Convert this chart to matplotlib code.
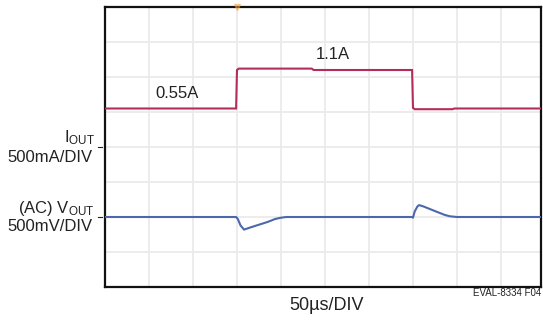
import matplotlib
matplotlib.use("Agg")
import matplotlib.pyplot as plt
import numpy as np

plt.rcParams['font.family'] = ['Liberation Sans Narrow', 'Liberation Sans', 'DejaVu Sans']
plt.rcParams['mathtext.fontset'] = 'custom'
plt.rcParams['mathtext.rm'] = 'Liberation Sans'
plt.rcParams['mathtext.it'] = 'Liberation Sans'

# Scope settings
TIME_PER_DIV = 50.0      # µs/DIV
IOUT_PER_DIV = 0.5       # A/DIV
VOUT_PER_DIV = 0.5       # V/DIV
IOUT_ZERO_DIV = 4.0      # I_OUT ground marker (divisions from bottom)
VOUT_ZERO_DIV = 2.0      # V_OUT AC reference (divisions from bottom)

# Load current step (µs, A)
iout_t = [0, 149, 150, 152, 235, 237, 349, 350, 352, 395, 397, 496]
iout_a = [0.55, 0.55, 1.10, 1.12, 1.12, 1.10, 1.10, 0.56, 0.54, 0.54, 0.55, 0.55]

# Output voltage deviation, AC coupled (µs, V)
vout_t = [0, 149, 151, 154, 158, 165, 175, 185, 193, 200, 206, 349, 350, 352, 355, 357,
          362, 370, 378, 386, 392, 400, 496]
vout_v = [0.0, 0.0, -0.03, -0.12, -0.18, -0.15, -0.11, -0.07, -0.03, -0.01, 0.0, 0.0,
          -0.01, 0.08, 0.15, 0.17, 0.15, 0.11, 0.07, 0.03, 0.01, 0.0, 0.0]

iout_label_levels = [0.55, 1.1]
iout_label_text = ["0.55A", "1.1A"]
iout_label_time = [82, 259]

fig = plt.figure(figsize=(5.43, 3.22), dpi=100)
ax = fig.add_axes([105 / 543, 1 - 287 / 322, 436 / 543, 280 / 322])

ax.set_xlim(0, 9.91)
ax.set_ylim(0, 8)
ax.set_xticks(np.arange(1, 10))
ax.set_yticks(np.arange(1, 8))
ax.grid(True, color='#eaeaea', linewidth=1.3)
ax.set_axisbelow(True)
ax.tick_params(length=0, labelbottom=False, labelleft=False)
for s in ax.spines.values():
    s.set_linewidth(1.6)
    s.set_color('#111111')

xi = np.array(iout_t) / TIME_PER_DIV
yi = IOUT_ZERO_DIV + np.array(iout_a) / IOUT_PER_DIV
ax.plot(xi, yi, color='#b32d5c', linewidth=1.5, solid_joinstyle='miter', zorder=3)

xv = np.array(vout_t) / TIME_PER_DIV
yv = VOUT_ZERO_DIV + np.array(vout_v) / VOUT_PER_DIV
ax.plot(xv, yv, color='#4d67ad', linewidth=1.5, zorder=3)

# trigger marker on the top edge
ax.plot([150 / TIME_PER_DIV], [8], marker='v', color='#f4a640', markersize=4,
        alpha=0.5, clip_on=False, zorder=4)

for lvl, txt, t in zip(iout_label_levels, iout_label_text, iout_label_time):
    ax.text(t / TIME_PER_DIV, IOUT_ZERO_DIV + lvl / IOUT_PER_DIV + 0.31, txt,
            ha='center', va='baseline', fontsize=12, color='#222222')

# channel labels on the left
fig.text(95 / 543, 1 - 147 / 322, r'I$_{\mathrm{OUT}}$', ha='right', va='bottom',
         fontsize=12, color='#222222')
fig.text(93 / 543, 1 - 150 / 322, '500mA/DIV', ha='right', va='top',
         fontsize=12, color='#222222')
fig.text(94 / 543, 1 - 218 / 322, r'(AC) V$_{\mathrm{OUT}}$', ha='right', va='bottom',
         fontsize=12, color='#222222')
fig.text(93 / 543, 1 - 219 / 322, '500mV/DIV', ha='right', va='top',
         fontsize=12, color='#222222')
for ydiv in (IOUT_ZERO_DIV, VOUT_ZERO_DIV):
    ax.plot([-0.16, -0.06], [ydiv, ydiv], color='#222222', linewidth=0.8,
            clip_on=False)

fig.text(327 / 543, 1 - 306 / 322, '50µs/DIV', ha='center', va='center',
         fontsize=13, color='#222222')
fig.text(541 / 543, 1 - 293 / 322, 'EVAL-8334 F04', ha='right', va='center',
         fontsize=7, color='#222222')

fig.savefig('out.png', dpi=100)
